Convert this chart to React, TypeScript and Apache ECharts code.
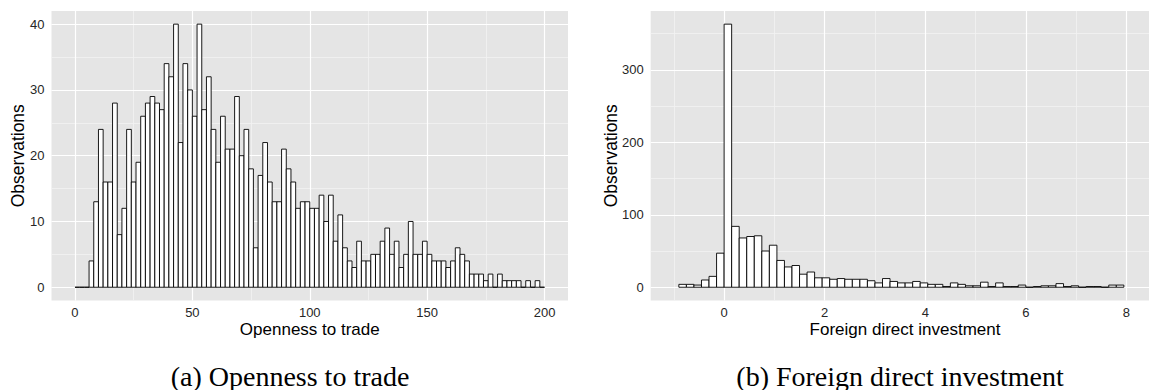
import React, { useEffect, useRef } from "react";
import * as echarts from "echarts";

// ---- Panel (a): Openness to trade ----
const opennessBinStart = 0;
const opennessBinWidth = 2;
const opennessCounts = [
  0, 0, 0, 4, 13, 24, 16, 16, 28, 8,
  12, 24, 16, 19, 26, 28, 29, 28, 27, 34,
  32, 40, 22, 34, 30, 26, 40, 27, 32, 24,
  19, 26, 21, 21, 29, 20, 24, 18, 6, 17,
  22, 16, 13, 13, 21, 18, 16, 12, 13, 13,
  12, 12, 14, 10, 14, 7, 11, 6, 4, 3,
  7, 4, 4, 5, 5, 7, 9, 5, 7, 3,
  5, 10, 5, 5, 7, 5, 4, 4, 4, 3,
  4, 6, 5, 4, 2, 2, 2, 1, 2, 0,
  2, 1, 1, 1, 1, 0, 1, 0, 1, 0,
];
const opennessXTicks = [0, 50, 100, 150, 200];
const opennessXMinor = [25, 75, 125, 175];
const opennessYTicks = [0, 10, 20, 30, 40];
const opennessYMinor = [5, 15, 25, 35];

// ---- Panel (b): Foreign direct investment ----
const fdiBinStart = -0.9;
const fdiBinWidth = 0.15;
const fdiCounts = [
  4, 4, 3, 10, 15, 47, 363, 84, 68, 70,
  71, 50, 58, 37, 28, 30, 18, 21, 13, 13,
  11, 12, 11, 11, 11, 9, 6, 12, 8, 6,
  6, 8, 6, 4, 4, 1, 6, 4, 2, 2,
  7, 1, 6, 1, 1, 3, 0, 1, 2, 2,
  5, 1, 2, 0, 1, 1, 0, 3, 3,
];
const fdiXTicks = [0, 2, 4, 6, 8];
const fdiXMinor = [-1, 1, 3, 5, 7];
const fdiYTicks = [0, 100, 200, 300];
const fdiYMinor = [50, 150, 250, 350];

const captions = ["(a) Openness to trade", "(b) Foreign direct investment"];
const xTitles = ["Openness to trade", "Foreign direct investment"];
const yTitle = "Observations";

const SANS = "'Liberation Sans', Arial, Helvetica, sans-serif";
const SERIF = "'Liberation Serif', 'Times New Roman', serif";

function bins(start: number, width: number, counts: number[]) {
  return counts.map((c, i) => [
    +(start + i * width).toFixed(4),
    +(start + (i + 1) * width).toFixed(4),
    c,
  ]);
}

function gridLines(xMajor: number[], xMinor: number[], yMajor: number[], yMinor: number[]) {
  const minorStyle = { color: "#F2F2F2", width: 0.8, type: "solid" as const };
  const majorStyle = { color: "#FFFFFF", width: 1.2, type: "solid" as const };
  return [
    ...xMinor.map((v) => ({ xAxis: v, lineStyle: minorStyle })),
    ...yMinor.map((v) => ({ yAxis: v, lineStyle: minorStyle })),
    ...xMajor.map((v) => ({ xAxis: v, lineStyle: majorStyle })),
    ...yMajor.map((v) => ({ yAxis: v, lineStyle: majorStyle })),
  ];
}

const renderBar = (params: any, api: any) => {
  const x0 = api.value(0);
  const x1 = api.value(1);
  const c = api.value(2);
  const p0 = api.coord([x0, 0]);
  const p1 = api.coord([x1, c]);
  return {
    type: "rect",
    shape: { x: p0[0], y: p1[1], width: p1[0] - p0[0], height: p0[1] - p1[1] },
    style: { fill: "#FFFFFF", stroke: "#000000", lineWidth: 0.9 },
  };
};

function axisX(idx: number, min: number, max: number, ticks: number[]) {
  return {
    type: "value",
    gridIndex: idx,
    min,
    max,
    axisLine: { show: false },
    splitLine: { show: false },
    axisTick: { show: true, customValues: ticks, length: 4, lineStyle: { color: "#7F7F7F", width: 1 } },
    axisLabel: { show: true, customValues: ticks, color: "#262626", fontSize: 13, fontFamily: SANS, margin: 6 },
  };
}
function axisY(idx: number, min: number, max: number, ticks: number[]) {
  return {
    type: "value",
    gridIndex: idx,
    min,
    max,
    axisLine: { show: false },
    splitLine: { show: false },
    axisTick: { show: true, customValues: ticks, length: 4, lineStyle: { color: "#7F7F7F", width: 1 } },
    axisLabel: { show: true, customValues: ticks, color: "#262626", fontSize: 13, fontFamily: SANS, margin: 7 },
  };
}

export default function App() {
  const ref = useRef<HTMLDivElement>(null);
  useEffect(() => {
    if (!ref.current) return;
    const chart = echarts.init(ref.current, undefined, { renderer: "svg" });
    const opt: any = {
      animation: false,
      backgroundColor: "#FFFFFF",
      grid: [
        { left: 51.5, top: 11, width: 516.5, height: 289.4, show: true, backgroundColor: "#E5E5E5", borderWidth: 0, containLabel: false },
        { left: 650.7, top: 11, width: 508.6, height: 289.4, show: true, backgroundColor: "#E5E5E5", borderWidth: 0, containLabel: false },
      ],
      xAxis: [axisX(0, -10, 210, opennessXTicks), axisX(1, -1.46, 8.45, fdiXTicks)],
      yAxis: [axisY(0, -2, 42, opennessYTicks), axisY(1, -18.15, 381.15, fdiYTicks)],
      series: [
        {
          type: "custom",
          xAxisIndex: 0,
          yAxisIndex: 0,
          z: 10,
          renderItem: renderBar,
          encode: { x: [0, 1], y: 2 },
          data: bins(opennessBinStart, opennessBinWidth, opennessCounts),
          silent: true,
          markLine: {
            z: 1,
            silent: true,
            symbol: "none",
            label: { show: false },
            emphasis: { disabled: true },
            data: gridLines(opennessXTicks, opennessXMinor, opennessYTicks, opennessYMinor),
          },
        },
        {
          type: "custom",
          xAxisIndex: 1,
          yAxisIndex: 1,
          z: 10,
          renderItem: renderBar,
          encode: { x: [0, 1], y: 2 },
          data: bins(fdiBinStart, fdiBinWidth, fdiCounts),
          silent: true,
          markLine: {
            z: 1,
            silent: true,
            symbol: "none",
            label: { show: false },
            emphasis: { disabled: true },
            data: gridLines(fdiXTicks, fdiXMinor, fdiYTicks, fdiYMinor),
          },
        },
      ],
      graphic: [
        { type: "text", x: 309.8, y: 329, style: { text: xTitles[0], fill: "#000", font: `17px ${SANS}`, textAlign: "center", textVerticalAlign: "middle" } },
        { type: "text", x: 905, y: 329, style: { text: xTitles[1], fill: "#000", font: `17px ${SANS}`, textAlign: "center", textVerticalAlign: "middle" } },
        { type: "text", x: 18, y: 155.7, rotation: Math.PI / 2, style: { text: yTitle, fill: "#000", font: `17.5px ${SANS}`, textAlign: "center", textVerticalAlign: "middle" } },
        { type: "text", x: 611, y: 155.7, rotation: Math.PI / 2, style: { text: yTitle, fill: "#000", font: `17.5px ${SANS}`, textAlign: "center", textVerticalAlign: "middle" } },
        { type: "text", x: 290, y: 376, style: { text: captions[0], fill: "#000", font: `28px ${SERIF}`, textAlign: "center", textVerticalAlign: "middle" } },
        { type: "text", x: 900, y: 376, style: { text: captions[1], fill: "#000", font: `28px ${SERIF}`, textAlign: "center", textVerticalAlign: "middle" } },
      ],
    };
    chart.setOption(opt);
    return () => chart.dispose();
  }, []);
  return <div ref={ref} style={{ position: "fixed", left: 0, top: 0, width: 1149, height: 390 }} />;
}
